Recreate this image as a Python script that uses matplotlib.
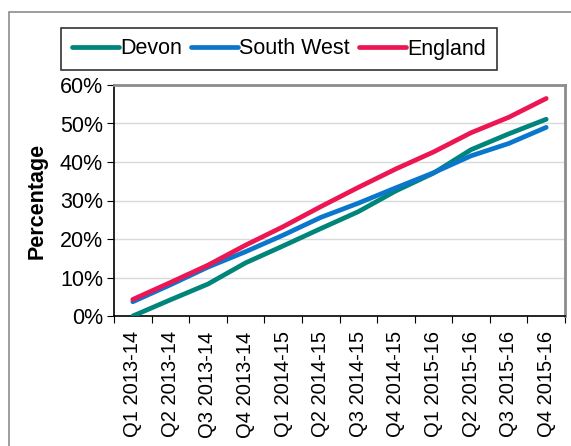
import numpy as np
import matplotlib.pyplot as plt
from matplotlib.patches import Rectangle

plt.rcParams['font.family'] = ['Liberation Sans', 'DejaVu Sans']

quarters = ['Q1 2013-14', 'Q2 2013-14', 'Q3 2013-14', 'Q4 2013-14',
            'Q1 2014-15', 'Q2 2014-15', 'Q3 2014-15', 'Q4 2014-15',
            'Q1 2015-16', 'Q2 2015-16', 'Q3 2015-16', 'Q4 2015-16']
devon = [0.0, 4.2, 8.3, 13.8, 18.2, 22.7, 27.1, 32.5, 37.1, 43.2, 47.3, 51.1]
south_west = [3.7, 8.1, 12.7, 16.7, 21.0, 25.6, 29.3, 33.3, 37.2, 41.6, 44.8, 49.0]
england = [4.3, 8.7, 13.2, 18.4, 23.2, 28.4, 33.4, 38.2, 42.6, 47.6, 51.6, 56.5]

fig = plt.figure(figsize=(5.71, 4.46), dpi=100)

# outer chart border (Excel chart area)
fig.patches.append(Rectangle((9 / 571, -0.05), 1.0, 1 - 12 / 446 + 0.05,
                             transform=fig.transFigure, fill=False,
                             edgecolor='#8c8c8c', linewidth=1.2))

ax = fig.add_axes([114 / 571, 1 - 316 / 446, 451 / 571, 231 / 446])

x = np.arange(len(quarters))
ax.plot(x, devon, color='#00857A', lw=3.4, solid_capstyle='round', label='Devon', zorder=3)
ax.plot(x, south_west, color='#0B77CC', lw=3.4, solid_capstyle='round', label='South West', zorder=3)
ax.plot(x, england, color='#EC1752', lw=3.4, solid_capstyle='round', label='England', zorder=3)

ax.set_xlim(-0.5, len(quarters) - 0.5)
ax.set_ylim(0, 60)
ax.set_yticks(range(0, 61, 10))
ax.set_yticklabels([f'{v}%' for v in range(0, 61, 10)], fontsize=15.5)
ax.yaxis.grid(True, color='#d9d9d9', lw=1)
ax.set_axisbelow(True)

ax.set_xticks(np.arange(-0.5, len(quarters), 1.0))
ax.set_xticklabels([])
ax.set_xticks(x, minor=True)
ax.set_xticklabels(quarters, minor=True, rotation=90, fontsize=14.5)
ax.tick_params(axis='x', which='minor', length=0, pad=11)
ax.tick_params(axis='x', which='major', length=5, direction='out', color='black')
ax.tick_params(axis='y', length=5, direction='out', pad=3)

for s in ['left', 'bottom']:
    ax.spines[s].set_color('black')
    ax.spines[s].set_linewidth(1.2)
for s in ['top', 'right']:
    ax.spines[s].set_color('#8c8c8c')
    ax.spines[s].set_linewidth(2)

ax.set_ylabel('Percentage', fontsize=15.5, fontweight='bold', labelpad=9)

leg = fig.legend(loc='center', bbox_to_anchor=(279 / 571, 1 - 49 / 446), ncol=3,
                 fontsize=15.5, frameon=True, fancybox=False, edgecolor='black',
                 handlelength=2.2, handletextpad=0.05, columnspacing=0.4,
                 borderpad=0.5, borderaxespad=0)
leg.get_frame().set_linewidth(1.2)

fig.savefig('out.png', dpi=100)
